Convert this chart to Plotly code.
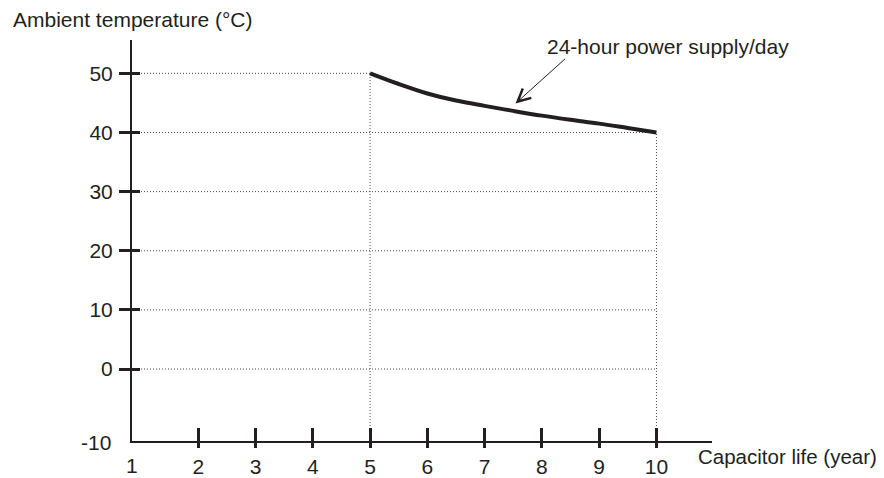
import numpy as np
import plotly.graph_objects as go

# ---- data ----
life_years = [5, 5.5, 6, 6.5, 7, 7.5, 8, 8.5, 9, 9.5, 10]
temperature_c = [50, 48.2, 46.6, 45.4, 44.5, 43.65, 42.85, 42.15, 41.5, 40.75, 40]

x_tick_vals = [2, 3, 4, 5, 6, 7, 8, 9, 10]
x_tick_text = ["2", "3", "4", "5", "6", "7", "8", "9", "10"]
x_origin_label = "1"
y_tick_vals = [0, 10, 20, 30, 40, 50]
y_tick_text = ["0", "10", "20", "30", "40", "50"]
y_origin_label = "-10"

series_label = "24-hour power supply/day"
x_title = "Capacitor life (year)"
y_title = "Ambient temperature (°C)"

# ---- styling ----
INK = "#231f20"
GRID = "#4a4a4a"
FONT = "Liberation Sans, Arial, sans-serif"
X_RANGE = [0.843, 10.97]
Y_RANGE = [-12.17, 55.64]

fig = go.Figure()

# guide lines (dotted) from the y axis to the curve / x extent
xs = np.array(life_years)
ys = np.array(temperature_c)
for v in y_tick_vals:
    if v >= ys.min():
        x_end = float(np.interp(v, ys[::-1], xs[::-1]))
    else:
        x_end = float(xs.max())
    fig.add_trace(go.Scatter(x=[X_RANGE[0], x_end], y=[v, v], mode="lines",
                             line=dict(color=GRID, width=1, dash="1px,2px"),
                             hoverinfo="skip", showlegend=False))
# vertical drop lines at curve ends
for xe, ye in [(xs[0], ys[0]), (xs[-1], ys[-1])]:
    fig.add_trace(go.Scatter(x=[xe, xe], y=[Y_RANGE[0], ye], mode="lines",
                             line=dict(color=GRID, width=1, dash="1px,2px"),
                             hoverinfo="skip", showlegend=False))

# main curve
fig.add_trace(go.Scatter(x=life_years, y=temperature_c, mode="lines",
                         line=dict(color=INK, width=4, shape="spline", smoothing=1.0),
                         name=series_label, showlegend=False))

# dummy traces for overlay axes (inside tick halves)
fig.add_trace(go.Scatter(x=[X_RANGE[0]], y=[Y_RANGE[0]], xaxis="x2", yaxis="y",
                         mode="markers", marker=dict(opacity=0), hoverinfo="skip",
                         showlegend=False))
fig.add_trace(go.Scatter(x=[X_RANGE[0]], y=[Y_RANGE[0]], xaxis="x", yaxis="y2",
                         mode="markers", marker=dict(opacity=0), hoverinfo="skip",
                         showlegend=False))

axis_font = dict(family=FONT, size=21, color=INK)
xtitle_font = dict(family=FONT, size=20.5, color=INK)

fig.update_layout(
    width=884, height=478,
    margin=dict(l=124, r=180, t=32, b=45, autoexpand=False),
    paper_bgcolor="white", plot_bgcolor="white",
    font=axis_font,
    xaxis=dict(range=X_RANGE, showline=True, linecolor=INK, linewidth=2,
               tickvals=x_tick_vals, ticktext=x_tick_text,
               ticks="outside", ticklen=5, tickwidth=2.5, tickcolor=INK,
               showgrid=False, zeroline=False, tickfont=axis_font,
               ticklabelstandoff=1, automargin=False),
    xaxis2=dict(range=X_RANGE, overlaying="x", anchor="y", side="bottom",
                showline=False, tickvals=x_tick_vals, ticktext=[""] * len(x_tick_vals),
                ticks="inside", ticklen=13, tickwidth=2.5, tickcolor=INK,
                showgrid=False, zeroline=False, showticklabels=False, automargin=False),
    yaxis=dict(range=Y_RANGE, showline=True, linecolor=INK, linewidth=2,
               tickvals=y_tick_vals, ticktext=y_tick_text,
               ticks="outside", ticklen=11, tickwidth=2.5, tickcolor=INK,
               showgrid=False, zeroline=False, tickfont=axis_font,
               ticklabelstandoff=2, automargin=False),
    yaxis2=dict(range=Y_RANGE, overlaying="y", anchor="x", side="left",
                showline=False, tickvals=y_tick_vals, ticktext=[""] * len(y_tick_vals),
                ticks="inside", ticklen=8, tickwidth=2.5, tickcolor=INK,
                showgrid=False, zeroline=False, showticklabels=False, automargin=False),
)

annotations = [
    dict(text=y_title, xref="paper", yref="paper", x=-0.2058, y=1.056,
         xanchor="left", yanchor="middle", xshift=-2, yshift=-2,
         showarrow=False, font=axis_font),
    dict(text=x_title, xref="paper", yref="paper", x=0.977, y=-0.038,
         xanchor="left", yanchor="middle", xshift=-3,
         showarrow=False, font=xtitle_font),
    dict(text=y_origin_label, xref="paper", yref="paper", x=0, y=0,
         xanchor="right", yanchor="middle", xshift=-19, yshift=-1,
         showarrow=False, font=axis_font),
    dict(text=x_origin_label, xref="paper", yref="paper", x=0, y=0,
         xanchor="center", yanchor="middle", yshift=-24,
         showarrow=False, font=axis_font),
    dict(text=series_label, xref="paper", yref="paper",
         x=(667.5 - 132) / 579.7, y=(440.7 - 46) / 400.7,
         xanchor="center", yanchor="middle", showarrow=False, font=axis_font),
    dict(text="", x=7.54, y=44.9, xref="x", yref="y", ax=51, ay=-46,
         showarrow=True, arrowhead=5, arrowsize=2.5, arrowwidth=1, arrowcolor=INK),
]
fig.update_layout(annotations=annotations)

fig.write_html("out.html")
